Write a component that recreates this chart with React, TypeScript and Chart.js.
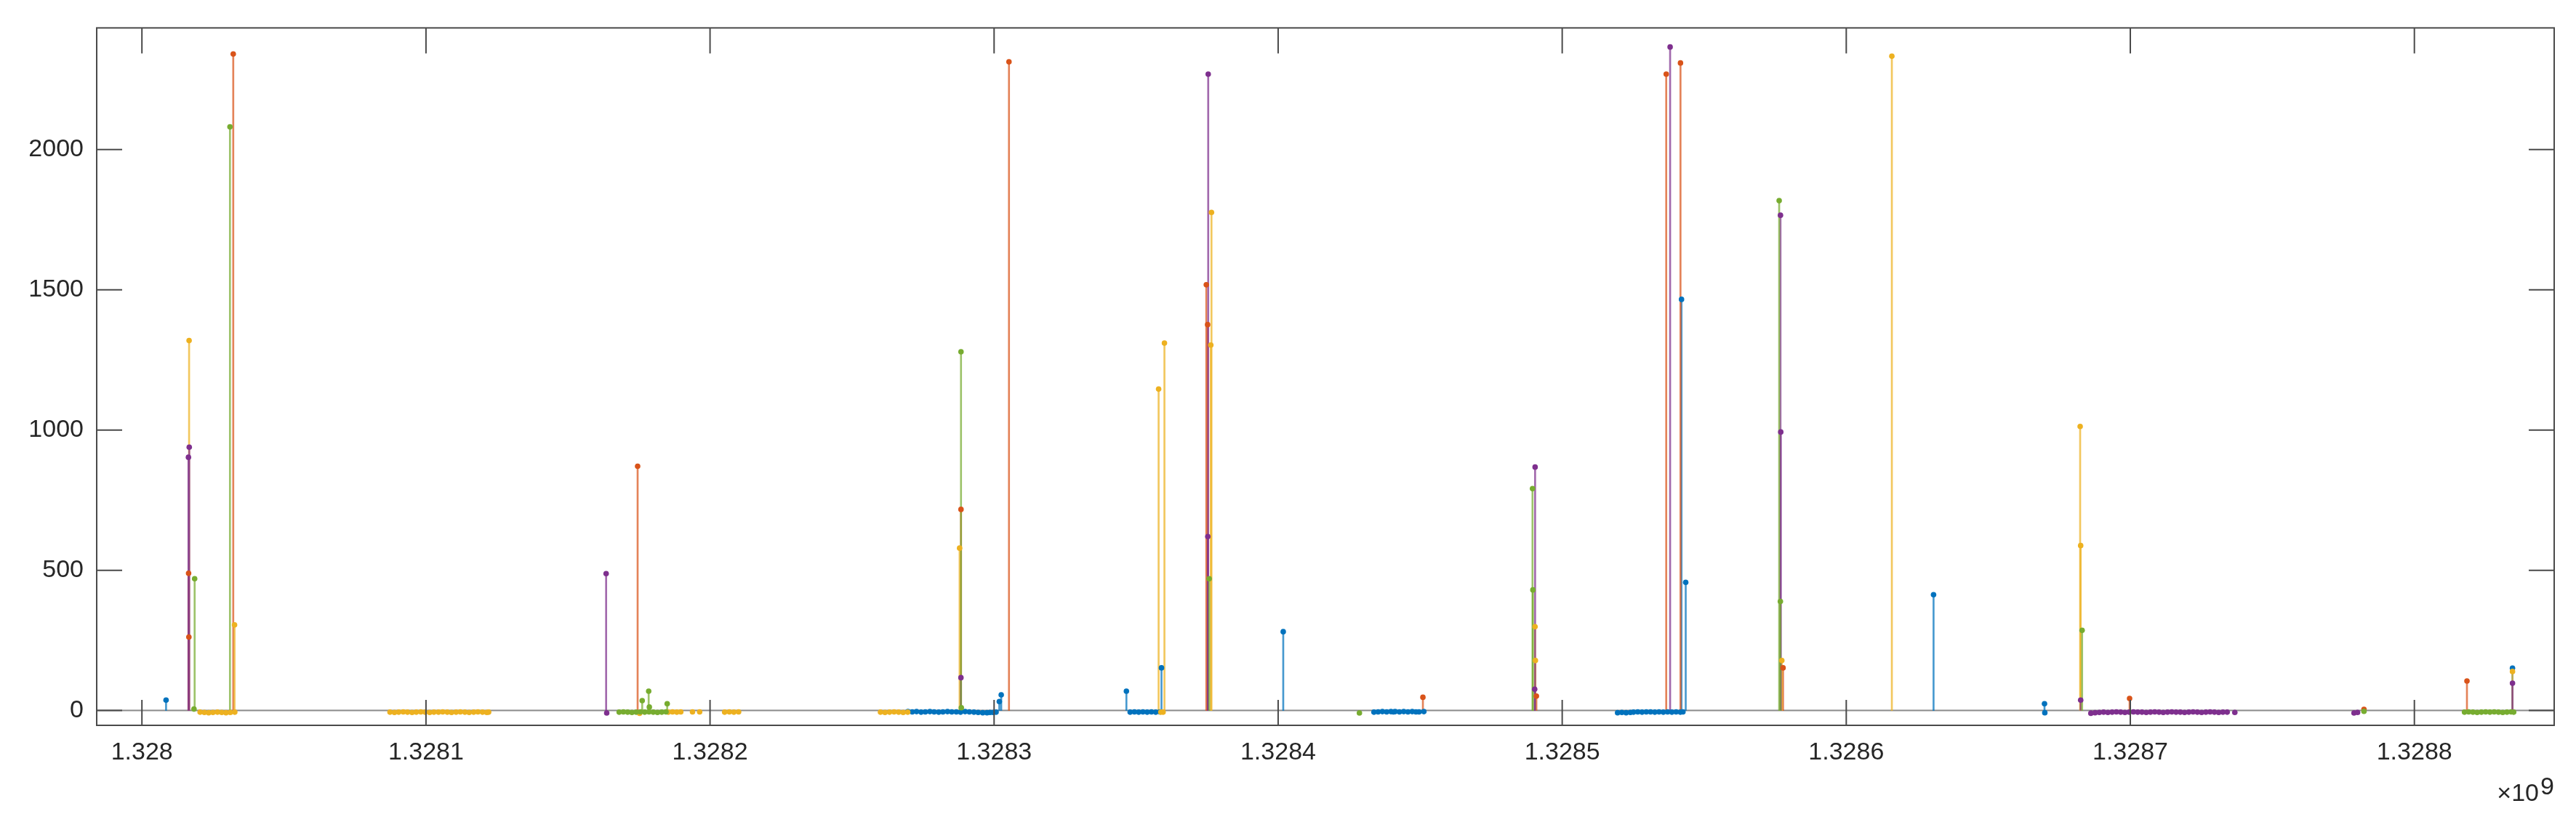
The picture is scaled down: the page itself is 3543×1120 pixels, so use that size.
import { useEffect, useRef } from 'react';
import { Chart, registerables } from 'chart.js';

Chart.register(...registerables);

// ---- axis limits and ticks ----
const X_MIN = 1327984080;
const X_MAX = 1328849220;
const Y_MIN = -53;
const Y_MAX = 2434;
const xTickValues = [1328000000, 1328100000, 1328200000, 1328300000, 1328400000, 1328500000, 1328600000, 1328700000, 1328800000];
const xTickLabels = ['1.328', '1.3281', '1.3282', '1.3283', '1.3284', '1.3285', '1.3286', '1.3287', '1.3288'];
const yTickValues = [0, 500, 1000, 1500, 2000];
const yTickLabels = ['0', '500', '1000', '1500', '2000'];
const exponentBase = '×10';
const exponentPower = '9';

// ---- series 1 (blue) ----
const blueX = [1328008500,
  1328269670, 1328271200, 1328272700, 1328274300, 1328275800, 1328277400, 1328278900, 1328280500, 1328282000, 1328283600,
  1328285100, 1328286700, 1328288200, 1328289800, 1328291300, 1328292900, 1328294400, 1328296000, 1328297500, 1328298590,
  1328299700, 1328300700, 1328301840, 1328302510,
  1328346580, 1328347900, 1328349400, 1328350900, 1328352400, 1328353900, 1328355400, 1328356900, 1328358400, 1328358930,
  1328401790,
  1328433730, 1328435200, 1328436700, 1328438200, 1328439700, 1328440600, 1328441200, 1328442700, 1328444200, 1328445700,
  1328447200, 1328448500, 1328449600, 1328451300,
  1328519500, 1328521000, 1328522500, 1328524000, 1328525100, 1328526600, 1328528100, 1328529600, 1328531100, 1328532600,
  1328534100, 1328535600, 1328537100, 1328538600, 1328540100, 1328541600, 1328542500,
  1328542000, 1328543480,
  1328630730,
  1328669790, 1328669900,
  1328834540];
const blueY = [37,
  -4, -5, -4, -6, -5, -4, -5, -6, -5, -4,
  -5, -5, -6, -4, -5, -6, -7, -8, -8, -7,
  -7, -6, 32, 56,
  69, -6, -5, -6, -5, -6, -5, -6, -5, 152,
  281,
  -6, -5, -4, -5, -4, -5, -4, -5, -4, -5,
  -4, -5, -5, -4,
  -8, -7, -8, -7, -6, -5, -6, -5, -5, -6,
  -5, -6, -5, -6, -5, -6, -5,
  1466, 457,
  413,
  24, -8,
  151];

// ---- series 2 (orange) ----
const orangeX = [1328016430, 1328016530, 1328032150, 1328174510, 1328288350, 1328305240, 1328374710, 1328375170,
  1328450960, 1328490910, 1328536620, 1328541640, 1328577750, 1328699740, 1328782260, 1328818510];
const orangeY = [489, 262, 2341, 871, 717, 2313, 1518, 1376, 47, 51, 2269, 2309, 152, 43, 4, 105];

// ---- series 3 (yellow) ----
const yellowX = [1328016610,
  1328020480, 1328022000, 1328023500, 1328025000, 1328026600, 1328028100, 1328029600, 1328031100, 1328032700,
  1328032610,
  1328087330, 1328088900, 1328090400, 1328092000, 1328093500, 1328095100, 1328096600, 1328098200, 1328099700, 1328101300,
  1328102800, 1328104400, 1328105900, 1328107500, 1328109000, 1328110600, 1328112100, 1328113700, 1328115200, 1328116800,
  1328118300, 1328119900, 1328121400, 1328122060,
  1328175200,
  1328185300, 1328186800, 1328188300, 1328189700,
  1328193830, 1328196340,
  1328205140, 1328206800, 1328208400, 1328210060,
  1328260000, 1328261600, 1328263200, 1328264800, 1328266400, 1328268000, 1328269600,
  1328287860,
  1328357920, 1328358700, 1328359500, 1328359970,
  1328376300, 1328376530,
  1328490430, 1328490560,
  1328577320,
  1328616050,
  1328682340, 1328682520,
  1328834540];
const yellowY = [1319,
  -6, -7, -8, -7, -6, -7, -8, -7, -6,
  305,
  -6, -7, -6, -5, -6, -7, -6, -5, -6, -7,
  -6, -6, -5, -6, -7, -6, -5, -6, -7, -6,
  -5, -6, -7, -6,
  -10,
  -6, -5, -6, -5,
  -5, -5,
  -6, -5, -6, -5,
  -6, -7, -6, -5, -6, -7, -6,
  579,
  1146, -6, -6, 1310,
  1303, 1776,
  299, 178,
  178,
  2333,
  1013, 588,
  139];

// ---- series 4 (purple) ----
const purpleX = [1328016380, 1328016660,
  1328163420, 1328163630,
  1328288330,
  1328375250, 1328375380,
  1328490310, 1328490460,
  1328537990,
  1328576840, 1328576940,
  1328682520,
  1328686110, 1328687600, 1328689100, 1328690600, 1328692100, 1328693600, 1328695100, 1328696600, 1328698100, 1328699600,
  1328701100, 1328702600, 1328704100, 1328705600, 1328707100, 1328708600, 1328710100, 1328711600, 1328713100, 1328714600,
  1328716100, 1328717600, 1328719100, 1328720600, 1328722100, 1328723600, 1328725100, 1328726600, 1328728100, 1328729600,
  1328731100, 1328732600, 1328734100,
  1328736790,
  1328778750, 1328780000,
  1328834540];
const purpleY = [903, 939,
  488, -9,
  117,
  620, 2269,
  76, 868,
  2366,
  1766, 993,
  37,
  -10, -8, -7, -6, -7, -6, -5, -6, -7, -6,
  -5, -6, -6, -7, -6, -5, -6, -7, -6, -5,
  -6, -6, -7, -6, -5, -6, -7, -6, -5, -6,
  -7, -6, -6,
  -7,
  -9, -7,
  97];

// ---- series 5 (green) ----
const greenX = [1328018330, 1328018560,
  1328031000,
  1328168010, 1328169500, 1328171000, 1328172500, 1328174000, 1328175500, 1328177000, 1328178500, 1328180000, 1328181500,
  1328183000, 1328184500,
  1328176120, 1328178400, 1328178630, 1328184920,
  1328288350, 1328288470,
  1328375730,
  1328428610,
  1328489550, 1328489680,
  1328576380, 1328576810,
  1328683030,
  1328782260,
  1328817640, 1328819100, 1328820600, 1328822100, 1328823600, 1328825100, 1328826600, 1328828100, 1328829600, 1328831100,
  1328832600, 1328834100, 1328834960];
const greenY = [5, 470,
  2081,
  -6, -5, -6, -7, -6, -5, -6, -5, -6, -7,
  -6, -5,
  35, 69, 12, 24,
  1279, 10,
  470,
  -9,
  791, 430,
  1818, 389,
  286,
  -3,
  -6, -5, -6, -7, -6, -5, -6, -5, -6, -7,
  -6, -5, -6];

const seriesList = [
  { xs: blueX, ys: blueY, rgb: '0,114,189' },
  { xs: orangeX, ys: orangeY, rgb: '217,83,25' },
  { xs: yellowX, ys: yellowY, rgb: '237,177,32' },
  { xs: purpleX, ys: purpleY, rgb: '126,47,142' },
  { xs: greenX, ys: greenY, rgb: '119,172,48' },
];

const FONT = "Helvetica, 'Liberation Sans', Arial, sans-serif";
const FONT_SIZE = 34;
const TEXT_COLOR = '#262626';
const AXIS_COLOR = '#4a4a4a';
const TICK_LEN = 35;

const matlabAxes = {
  id: 'matlabAxes',
  afterDraw(chart: any) {
    const { ctx, chartArea: a, scales } = chart;
    const xs = scales.x;
    const ys = scales.y;
    ctx.save();
    ctx.strokeStyle = AXIS_COLOR;
    ctx.lineWidth = 2;
    ctx.beginPath();
    xTickValues.forEach((v) => {
      const p = xs.getPixelForValue(v);
      ctx.moveTo(p, a.bottom);
      ctx.lineTo(p, a.bottom - TICK_LEN);
      ctx.moveTo(p, a.top);
      ctx.lineTo(p, a.top + TICK_LEN);
    });
    yTickValues.forEach((v) => {
      const p = ys.getPixelForValue(v);
      ctx.moveTo(a.left, p);
      ctx.lineTo(a.left + TICK_LEN, p);
      ctx.moveTo(a.right, p);
      ctx.lineTo(a.right - TICK_LEN, p);
    });
    ctx.stroke();
    ctx.strokeRect(a.left, a.top, a.right - a.left, a.bottom - a.top);

    ctx.fillStyle = TEXT_COLOR;
    ctx.textAlign = 'right';
    ctx.textBaseline = 'alphabetic';
    ctx.font = `${FONT_SIZE}px ${FONT}`;
    ctx.fillText(exponentPower, a.right, a.bottom + 95);
    ctx.fillText(exponentBase, a.right - 21, a.bottom + 104);
    ctx.restore();
  },
};

export default function App() {
  const canvasRef = useRef<HTMLCanvasElement | null>(null);

  useEffect(() => {
    document.body.style.margin = '0';
    const canvas = canvasRef.current;
    if (!canvas) return;

    const datasets: any[] = [];
    datasets.push({
      type: 'line',
      data: [{ x: X_MIN, y: 0 }, { x: X_MAX, y: 0 }],
      borderColor: '#8a8a8a',
      borderWidth: 2,
      pointRadius: 0,
      order: 100,
    });
    seriesList.forEach((s, i) => {
      const pts = s.xs.map((x, j) => ({ x, y: s.ys[j] }));
      datasets.push({
        type: 'bar',
        data: pts,
        backgroundColor: `rgba(${s.rgb},0.72)`,
        borderWidth: 0,
        barThickness: 2,
        grouped: false,
        order: 60 - i,
      });
      datasets.push({
        type: 'scatter',
        data: pts,
        backgroundColor: `rgb(${s.rgb})`,
        borderWidth: 0,
        pointRadius: 3.8,
        pointHoverRadius: 3.8,
        showLine: false,
        order: 30 - i,
      });
    });

    const chart = new Chart(canvas, {
      type: 'scatter',
      data: { datasets },
      options: {
        animation: false,
        responsive: false,
        devicePixelRatio: 1,
        layout: { padding: { left: 0, top: 34, right: 30, bottom: 0 } },
        plugins: { legend: { display: false }, tooltip: { enabled: false } },
        scales: {
          x: {
            type: 'linear',
            min: X_MIN,
            max: X_MAX,
            offset: false,
            grid: { display: false, drawTicks: false },
            border: { display: false },
            afterBuildTicks: (axis: any) => {
              axis.ticks = xTickValues.map((value) => ({ value }));
            },
            afterFit: (axis: any) => {
              axis.height = 122;
            },
            ticks: {
              autoSkip: false,
              maxRotation: 0,
              minRotation: 0,
              padding: 17,
              color: TEXT_COLOR,
              font: { family: FONT, size: FONT_SIZE },
              callback: (_v: any, index: number) => xTickLabels[index],
            },
          },
          y: {
            type: 'linear',
            min: Y_MIN,
            max: Y_MAX,
            grid: { display: false, drawTicks: false },
            border: { display: false },
            afterBuildTicks: (axis: any) => {
              axis.ticks = yTickValues.map((value) => ({ value }));
            },
            afterFit: (axis: any) => {
              axis.width = 133;
            },
            ticks: {
              padding: 18,
              color: TEXT_COLOR,
              font: { family: FONT, size: FONT_SIZE },
              callback: (_v: any, index: number) => yTickLabels[index],
            },
          },
        },
      },
      plugins: [matlabAxes],
    } as any);

    return () => {
      chart.destroy();
    };
  }, []);

  return (
    <div style={{ width: 3543, height: 1120, background: '#fff' }}>
      <canvas ref={canvasRef} width={3543} height={1120} style={{ display: 'block', width: 3543, height: 1120 }} />
    </div>
  );
}
